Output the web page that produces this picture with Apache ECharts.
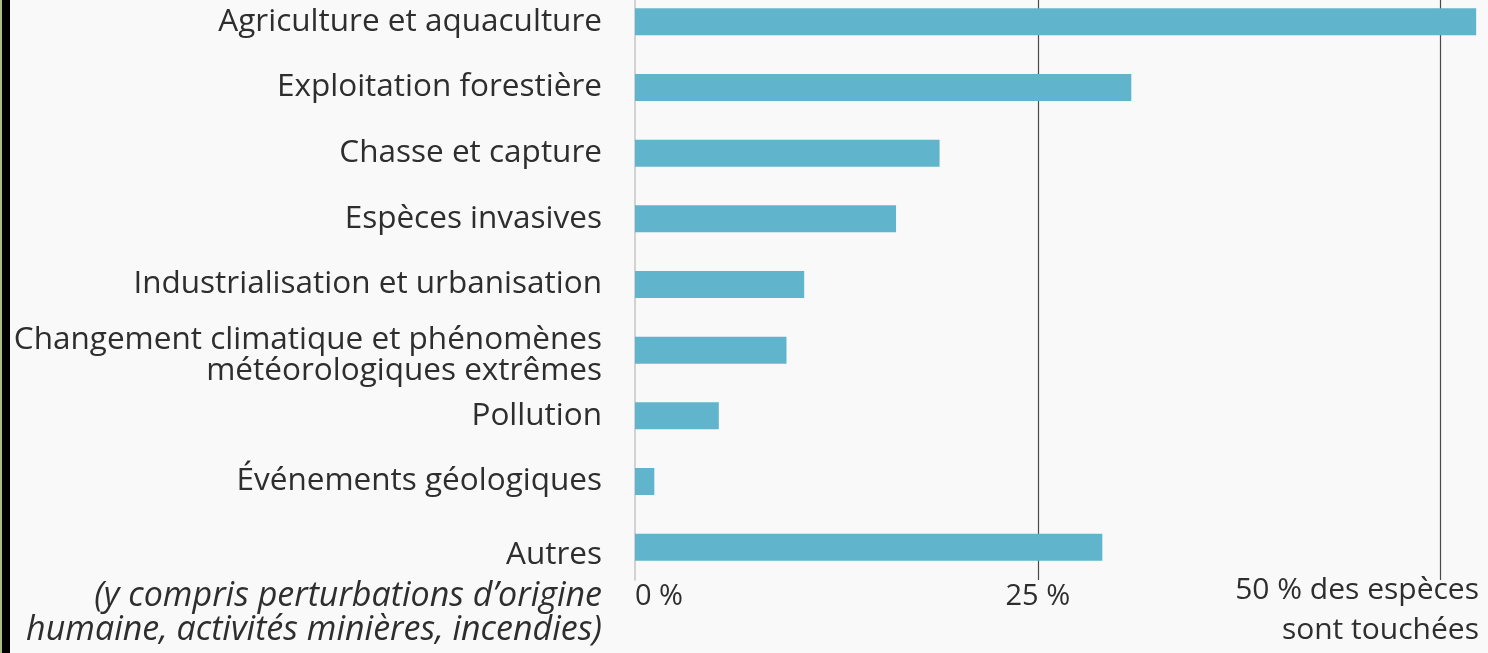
<!DOCTYPE html>
<html>
<head>
<meta charset="utf-8">
<script src="https://cdn.jsdelivr.net/npm/echarts@6/dist/echarts.min.js"></script>
<style>
html,body{margin:0;padding:0;background:#f9f9f9;}
#c{width:1488px;height:653px;}
</style>
</head>
<body>
<div id="c"></div>
<script>
var categories = [
  'Agriculture et aquaculture',
  'Exploitation forestière',
  'Chasse et capture',
  'Espèces invasives',
  'Industrialisation et urbanisation',
  'Changement climatique et phénomènes\nmétéorologiques extrêmes',
  'Pollution',
  'Événements géologiques',
  'Autres'
];
var autresNote = ['(y compris perturbations d’origine', 'humaine, activités minières, incendies)'];
var values = [52.2, 30.8, 18.9, 16.2, 10.5, 9.4, 5.2, 1.2, 29.0];
var tickValues = [0, 25, 50];
var tickLabels = ['0 %', '25 %', ''];
var axisTitle = ['50 % des espèces', 'sont touchées'];

var FONT = 'Open Sans';
var TXT = '#2e2e2e';
var FS = 31.5;

var yData = categories.map(function (c, i) {
  if (c === 'Autres') {
    return { value: c, textStyle: { padding: [84, 0, 0, 0] } };
  }
  if (c.indexOf('\n') >= 0) {
    return { value: c, textStyle: { padding: [10, 0, 0, 0], lineHeight: 31 } };
  }
  return c;
});

var chart = echarts.init(document.getElementById('c'));
chart.setOption({
  backgroundColor: '#f9f9f9',
  animation: false,
  grid: { left: 635, right: 7, top: -11, bottom: 73, outerBoundsMode: 'none', containLabel: false },
  xAxis: {
    type: 'value',
    min: 0,
    max: 52.5,
    interval: 25,
    axisLine: { show: false },
    axisTick: { show: false },
    splitLine: { show: true, showMinLine: false, showMaxLine: false, lineStyle: { color: '#4a4a4a', width: 1.2 } },
    axisLabel: {
      margin: 2,
      color: TXT,
      fontFamily: FONT,
      fontSize: 29,
      alignMinLabel: 'left',
      showMaxLabel: false,
      formatter: function (v) {
        var k = tickValues.indexOf(v);
        return k >= 0 ? tickLabels[k] : '';
      }
    },
    name: '{a|' + axisTitle[0] + '}\n{b|' + axisTitle[1] + '}',
    nameLocation: 'end',
    nameGap: -2,
    nameMoveOverlap: false,
    nameTextStyle: {
      color: TXT, fontFamily: FONT, fontSize: 30,
      align: 'right', verticalAlign: 'top',
      rich: {
        a: { color: TXT, fontFamily: FONT, fontSize: 30, lineHeight: 20 },
        b: { color: TXT, fontFamily: FONT, fontSize: 30, lineHeight: 60 }
      }
    }
  },
  yAxis: {
    type: 'category',
    inverse: true,
    data: yData,
    axisTick: { show: false },
    axisLine: { show: true, lineStyle: { color: '#c4c4c4', width: 1.5 } },
    splitLine: { show: false },
    axisLabel: {
      margin: 33,
      color: TXT,
      fontFamily: FONT,
      fontSize: FS,
      interval: 0,
      formatter: function (v) {
        if (v === 'Autres') {
          return '{n|Autres}\n{i|' + autresNote[0] + '}\n{i|' + autresNote[1] + '}';
        }
        return v;
      },
      rich: {
        n: { fontFamily: FONT, fontSize: FS, color: TXT, lineHeight: 48 },
        i: { fontFamily: FONT, fontSize: 34, color: TXT, fontStyle: 'italic', lineHeight: 34 }
      }
    }
  },
  series: [{
    type: 'bar',
    data: values,
    barWidth: 27,
    itemStyle: { color: '#60b4cb' },
    z: 3
  }],
  graphic: [
    { type: 'rect', left: 0, top: 0, shape: { width: 2, height: 653 }, style: { fill: '#a9bf84' }, z: 100 },
    { type: 'rect', left: 2, top: 0, shape: { width: 8, height: 653 }, style: { fill: '#000' }, z: 100 }
  ]
});
</script>
</body>
</html>
